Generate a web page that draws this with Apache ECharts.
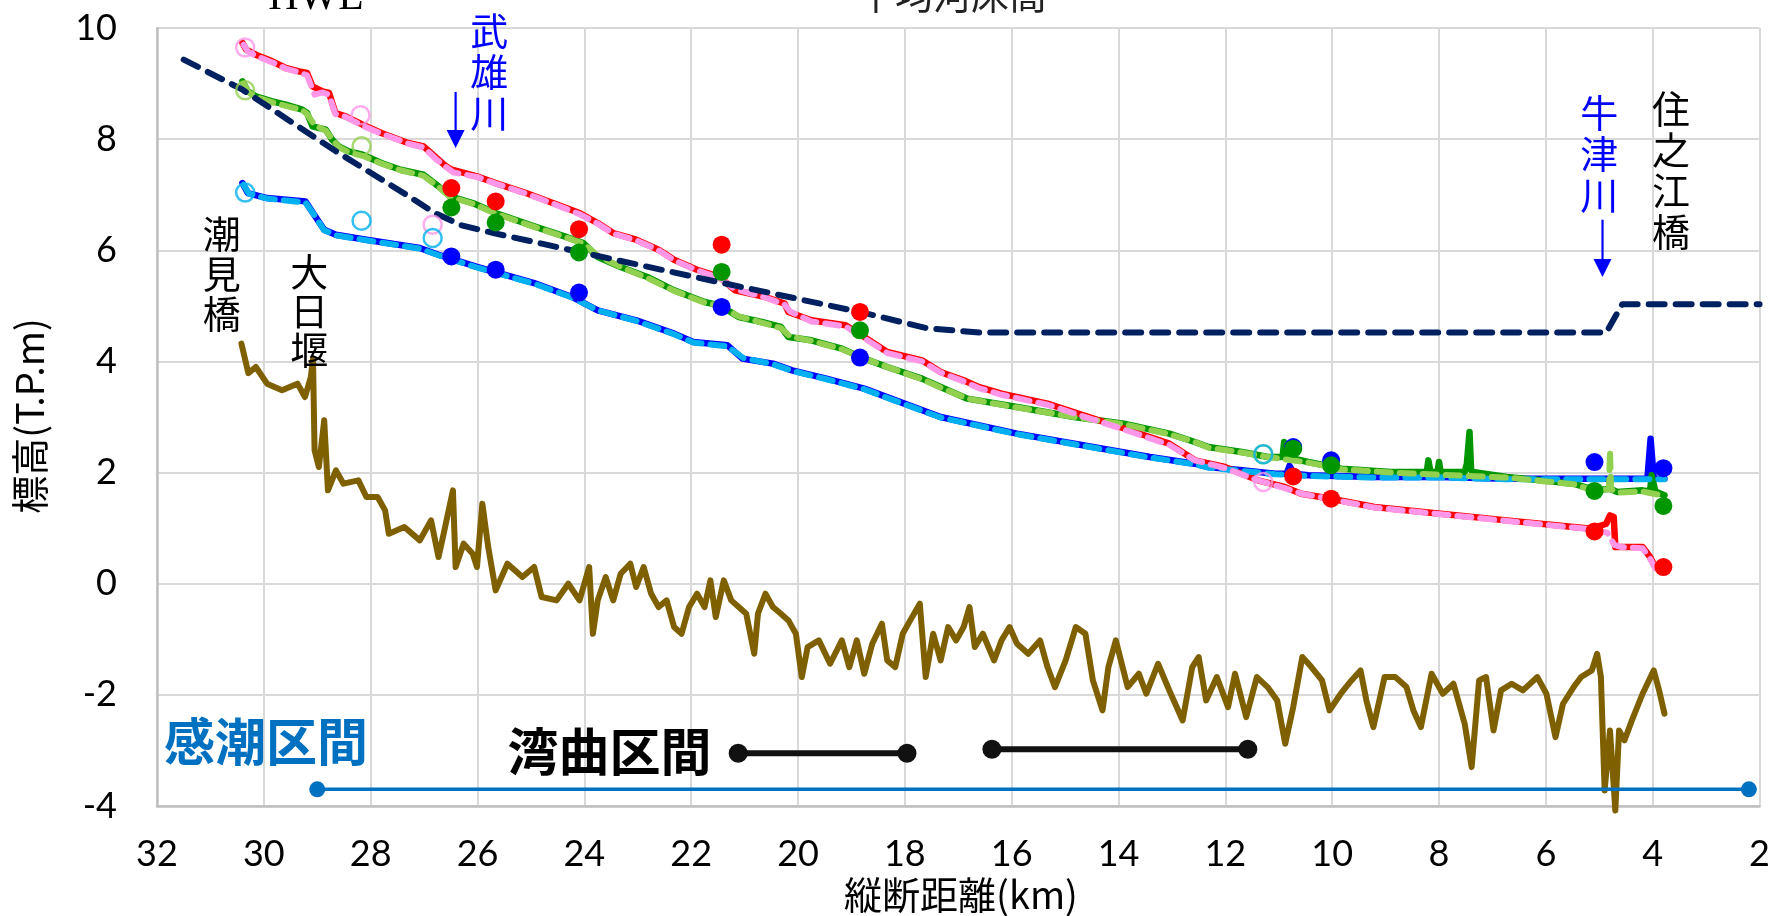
<!DOCTYPE html>
<html><head><meta charset="utf-8">
<script src="https://cdn.jsdelivr.net/npm/echarts@6/dist/echarts.min.js"></script>
<style>html,body{margin:0;padding:0;background:#fff}#c{width:1773px;height:916px}</style>
</head><body><div id="c"></div>
<script>
// ---------- data (km, T.P.m) ----------
const xTicks = [32,30,28,26,24,22,20,18,16,14,12,10,8,6,4,2];
const yTicks = [-4,-2,0,2,4,6,8,10];

const hwlX = [31.5,30.4,28.65,27.3,26.8,26.3,25.7,24.0,21.5,18.75,17.6,16.6,4.87,4.57,2.0];
const hwlY = [9.43,8.89,7.78,6.98,6.67,6.45,6.31,5.95,5.43,4.87,4.6,4.52,4.52,5.03,5.03];

const redX = [30.4,30.33,30.15,29.84,29.59,29.34,29.19,29.09,28.9,28.78,28.66,28.47,28.15,27.8,27.3,27.01,26.8,26.59,26.48,26.01,25.66,25.09,24.59,24.09,23.75,23.46,23.03,22.61,22.32,21.89,21.47,21.18,20.61,20.25,20.18,19.75,19.11,18.76,18.33,17.68,17.33,16.9,16.62,16.19,15.33,13.98,13.05,12.57,12.01,11.39,10.89,10.58,10.02,9.21,7.97,6.73,5.48,5.14,4.87,4.8,4.73,4.7,4.59,4.19,4.05,3.95,3.81];
const redY = [9.73,9.61,9.52,9.40,9.28,9.22,9.19,8.95,8.86,8.83,8.47,8.41,8.26,8.11,7.93,7.87,7.69,7.51,7.45,7.33,7.21,7.03,6.85,6.67,6.49,6.31,6.19,6.01,5.83,5.65,5.52,5.28,5.16,5.04,4.89,4.74,4.65,4.44,4.17,4.02,3.81,3.66,3.54,3.42,3.24,2.82,2.52,2.22,2.10,1.86,1.74,1.62,1.53,1.38,1.26,1.14,1.02,0.99,1.08,1.23,1.20,0.66,0.66,0.66,0.48,0.30,0.24];

const pinkX = [30.38,30.3,30.15,29.84,29.59,29.34,29.19,29.05,28.9,28.78,28.66,28.47,28.15,27.8,27.3,27.01,26.8,26.59,26.45,26.01,25.66,25.09,24.59,24.09,23.75,23.46,23.03,22.61,22.32,21.89,21.47,21.18,20.61,20.25,20.15,19.75,19.11,18.76,18.33,17.68,17.33,16.9,16.62,16.19,15.33,13.98,13.05,12.57,12.01,11.39,10.89,10.58,10.02,9.21,7.97,6.73,5.48,5.14,4.85,4.72,4.59,4.19,4.05,3.95,3.83];
const pinkY = [9.70,9.58,9.50,9.38,9.27,9.20,9.15,8.80,8.84,8.80,8.45,8.40,8.24,8.10,7.92,7.85,7.66,7.50,7.40,7.32,7.20,7.02,6.84,6.65,6.48,6.30,6.18,6.00,5.82,5.64,5.50,5.30,5.15,5.02,4.90,4.72,4.63,4.42,4.15,4.00,3.80,3.64,3.52,3.40,3.22,2.80,2.50,2.22,2.08,1.86,1.72,1.62,1.52,1.37,1.25,1.13,1.01,0.98,0.92,0.70,0.66,0.64,0.45,0.28,0.21];

const greenX = [30.4,30.3,30.15,29.84,29.59,29.28,29.19,29.09,28.84,28.72,28.6,28.41,28.15,27.8,27.44,27.01,26.73,26.51,26.09,25.66,24.94,24.37,24.02,23.75,23.32,22.82,22.32,21.75,21.47,21.11,20.68,20.32,20.18,19.75,19.18,18.76,18.33,17.68,17.33,16.83,15.9,14.83,13.9,13.05,12.57,12.32,11.69,11.2,10.93,10.9,10.86,10.45,9.83,8.9,8.23,8.2,8.16,8.03,8.0,7.97,7.52,7.48,7.43,7.4,7.37,6.73,6.1,5.48,5.07,4.8,4.66,4.19,4.05,4.02,3.95,3.78];
const greenY = [9.04,8.86,8.77,8.68,8.62,8.53,8.47,8.23,8.17,7.99,7.87,7.78,7.72,7.57,7.45,7.36,7.15,6.97,6.85,6.67,6.43,6.25,6.13,5.88,5.70,5.52,5.28,5.07,5.01,4.80,4.71,4.62,4.44,4.38,4.23,4.05,3.90,3.69,3.54,3.33,3.18,3.00,2.88,2.70,2.55,2.46,2.37,2.28,2.28,2.55,2.28,2.19,2.07,2.01,2.01,2.22,2.01,2.01,2.19,2.01,2.01,2.15,2.73,2.05,2.01,1.92,1.86,1.80,1.68,1.71,1.65,1.68,1.66,1.95,1.66,1.59];

const lgreenX = [30.38,30.28,30.15,29.84,29.59,29.28,29.19,29.05,28.84,28.72,28.6,28.41,28.15,27.8,27.44,27.01,26.73,26.51,26.09,25.66,24.94,24.37,24.02,23.75,23.32,22.82,22.32,21.75,21.47,21.11,20.68,20.32,20.15,19.75,19.18,18.76,18.33,17.68,17.33,16.83,15.9,14.83,13.9,13.05,12.57,12.32,11.69,11.2,10.45,9.83,8.9,7.97,6.73,6.1,5.48,5.07,4.82,4.8,4.78,4.66,4.19,3.78];
const lgreenY = [9.00,8.84,8.76,8.66,8.60,8.52,8.45,8.25,8.15,8.00,7.86,7.76,7.70,7.56,7.44,7.34,7.14,6.96,6.84,6.66,6.42,6.24,6.12,5.90,5.70,5.50,5.27,5.06,5.00,4.81,4.70,4.60,4.45,4.37,4.22,4.05,3.90,3.68,3.53,3.33,3.17,3.00,2.87,2.69,2.55,2.45,2.36,2.28,2.18,2.06,2.00,1.96,1.91,1.85,1.79,1.67,1.70,2.40,1.70,1.64,1.66,1.58];

const blueX = [30.4,30.3,29.94,29.22,29.08,28.87,28.65,28.08,27.08,26.73,26.01,24.94,24.23,23.75,23.03,22.32,21.96,21.32,21.04,20.47,20.11,19.47,18.76,18.26,17.33,15.9,14.48,13.41,12.57,12.32,11.69,11.07,10.85,10.8,10.72,10.45,9.21,7.97,6.73,5.48,4.1,4.04,4.02,3.98,3.78];
const blueY = [7.21,7.03,6.94,6.88,6.67,6.37,6.28,6.19,6.04,5.92,5.70,5.41,5.16,4.92,4.74,4.50,4.35,4.29,4.05,3.96,3.84,3.69,3.51,3.33,3.00,2.70,2.46,2.28,2.16,2.10,2.04,1.98,1.98,2.12,1.98,1.95,1.92,1.92,1.89,1.89,1.89,2.61,2.61,1.89,1.89];

const lblueX = [30.38,30.28,29.94,29.22,29.06,28.87,28.65,28.08,27.08,26.73,26.01,24.94,24.23,23.75,23.03,22.32,21.96,21.32,21.02,20.47,20.11,19.47,18.76,18.26,17.33,15.9,14.48,13.41,12.57,12.32,11.69,11.07,10.45,9.21,7.97,6.73,5.48,4.1,3.78];
const lblueY = [7.18,7.02,6.93,6.86,6.64,6.36,6.27,6.18,6.03,5.91,5.69,5.40,5.15,4.92,4.73,4.49,4.34,4.27,4.06,3.95,3.83,3.68,3.50,3.32,2.99,2.69,2.45,2.27,2.15,2.09,2.03,1.97,1.94,1.91,1.91,1.88,1.88,1.88,1.88];

const bedX = [30.42,30.29,30.15,29.94,29.66,29.37,29.23,29.12,29.08,29.05,28.97,28.87,28.8,28.65,28.51,28.23,28.08,27.87,27.73,27.66,27.37,27.08,26.87,26.73,26.62,26.46,26.41,26.26,26.09,26.01,25.91,25.8,25.66,25.44,25.16,24.94,24.8,24.52,24.3,24.09,23.91,23.84,23.75,23.6,23.46,23.32,23.14,23.03,22.89,22.75,22.61,22.46,22.32,22.18,22.04,21.89,21.75,21.64,21.54,21.39,21.25,21.11,20.97,20.82,20.75,20.61,20.47,20.32,20.18,20.04,19.93,19.82,19.61,19.4,19.18,19.04,18.9,18.76,18.61,18.43,18.33,18.18,18.04,17.9,17.72,17.61,17.47,17.33,17.19,17.04,16.9,16.79,16.69,16.54,16.33,16.19,16.04,15.9,15.69,15.47,15.33,15.19,14.99,14.8,14.62,14.48,14.3,14.19,14.05,13.83,13.62,13.48,13.26,13.05,12.8,12.62,12.5,12.36,12.16,11.95,11.82,11.61,11.41,11.21,11.03,10.88,10.73,10.56,10.39,10.19,10.05,9.84,9.64,9.47,9.36,9.23,9.02,8.82,8.61,8.48,8.34,8.14,7.93,7.73,7.52,7.39,7.25,7.12,6.98,6.84,6.64,6.43,6.16,5.99,5.82,5.68,5.48,5.34,5.14,5.04,4.97,4.9,4.8,4.7,4.63,4.53,4.39,4.19,3.98,3.88,3.78];
const bedY = [4.32,3.79,3.90,3.60,3.48,3.60,3.36,3.72,4.05,2.40,2.10,2.94,1.68,2.04,1.80,1.86,1.56,1.56,1.32,0.90,1.02,0.78,1.14,0.48,0.96,1.68,0.30,0.72,0.54,0.30,1.44,0.66,-0.12,0.36,0.12,0.30,-0.24,-0.30,0.00,-0.30,0.30,-0.90,-0.30,0.12,-0.30,0.18,0.36,-0.06,0.30,-0.18,-0.42,-0.30,-0.78,-0.90,-0.42,-0.18,-0.42,0.06,-0.60,0.06,-0.30,-0.42,-0.54,-1.26,-0.54,-0.18,-0.42,-0.54,-0.66,-0.90,-1.68,-1.14,-1.02,-1.44,-1.02,-1.50,-1.02,-1.62,-1.08,-0.72,-1.38,-1.50,-0.90,-0.66,-0.36,-1.68,-0.90,-1.38,-0.78,-1.02,-0.78,-0.42,-1.14,-0.90,-1.38,-1.02,-0.78,-1.08,-1.26,-1.02,-1.50,-1.86,-1.38,-0.78,-0.90,-1.74,-2.28,-1.50,-1.02,-1.86,-1.62,-1.98,-1.44,-1.92,-2.46,-1.50,-1.32,-2.10,-1.68,-2.22,-1.62,-2.40,-1.68,-1.86,-2.10,-2.88,-2.22,-1.32,-1.50,-1.74,-2.28,-1.98,-1.74,-1.56,-2.10,-2.58,-1.68,-1.68,-1.86,-2.28,-2.58,-1.62,-1.98,-1.80,-2.52,-3.30,-1.74,-1.68,-2.64,-1.92,-1.80,-1.92,-1.68,-1.98,-2.76,-2.16,-1.86,-1.68,-1.56,-1.26,-1.68,-3.72,-2.64,-4.08,-2.64,-2.82,-2.46,-1.98,-1.56,-1.92,-2.34];

// observed points (filled) and other points (open)
const obsX      = [26.49,25.66,24.1,21.43,18.84,10.73,10.02,5.09,3.8];
const obsRedY   = [7.12,6.88,6.38,6.10,4.89,1.93,1.53,0.94,0.30];
const obsGreenY = [6.77,6.50,5.96,5.61,4.56,2.43,2.13,1.67,1.40];
const obsBlueY  = [5.89,5.65,5.24,4.98,4.07,2.46,2.22,2.19,2.08];
const openPinkX = [30.35,28.19,26.84,11.29];
const openPinkY = [9.65,8.43,6.46,1.83];
const openLGreenX = [30.35,28.17,11.29];
const openLGreenY = [8.88,7.87,2.33];
const openLBlueX = [30.35,28.17,26.84,11.29];
const openLBlueY = [7.04,6.53,6.22,2.33];

// reach bars
const kanchoX = [29.0,2.2];
const kanchoY = [-3.7,-3.7];
const wan1X = [21.12,17.96];
const wan1Y = [-3.05,-3.05];
const wan2X = [16.37,11.58];
const wan2Y = [-2.98,-2.98];

const pairs = (xs, ys) => xs.map((x, i) => [x, ys[i]]);

const chart = echarts.init(document.getElementById('c'), null, {renderer: 'canvas'});
const numFont = 'Lato, "Open Sans", sans-serif';
const jpFont = '"Noto Sans CJK JP", "Noto Sans", sans-serif';

function lineS(name, xs, ys, color, width, dash, z) {
  return {
    name, type: 'line', data: pairs(xs, ys), showSymbol: false, symbol: 'none',
    lineStyle: {color, width, type: dash || 'solid', cap: 'round', join: 'round'},
    z: z || 2, animation: false, clip: true
  };
}
function dotS(xs, ys, color, size) {
  return {type: 'scatter', data: pairs(xs, ys), symbol: 'circle', symbolSize: size,
    itemStyle: {color, opacity: 1}, z: 6, animation: false};
}
function ringS(xs, ys, color) {
  return {type: 'scatter', data: pairs(xs, ys), symbol: 'circle', symbolSize: 18,
    itemStyle: {color: 'rgba(0,0,0,0)', borderColor: color, borderWidth: 2.5}, z: 6, animation: false};
}
function barS(xs, ys, color, width, size) {
  return {type: 'line', data: pairs(xs, ys), symbol: 'circle', symbolSize: size, showSymbol: true,
    lineStyle: {color, width}, itemStyle: {color}, z: 5, animation: false};
}

const bed = lineS('平均河床高', bedX, bedY, '#7F6000', 6, null, 2);
bed.clip = false;

chart.setOption({
  animation: false,
  backgroundColor: '#fff',
  grid: {left: 157, right: 6, top: 28, bottom: 110, containLabel: false},
  xAxis: {
    type: 'value', inverse: true, min: 2, max: 32, interval: 2,
    axisLine: {show: true, onZero: false, lineStyle: {color: '#BFBFBF', width: 2.5}},
    axisTick: {show: false},
    splitLine: {show: true, lineStyle: {color: '#D9D9D9', width: 2}},
    axisLabel: {color: '#000', fontSize: 36, fontFamily: numFont, margin: 30,
      formatter: v => xTicks.includes(v) ? String(v) : ''}
  },
  yAxis: {
    type: 'value', min: -4, max: 10, interval: 2,
    axisLine: {show: true, onZero: false, lineStyle: {color: '#BFBFBF', width: 2.5}},
    axisTick: {show: false},
    splitLine: {show: true, lineStyle: {color: '#D9D9D9', width: 2}},
    axisLabel: {color: '#000', fontSize: 36, fontFamily: numFont, margin: 40,
      formatter: v => yTicks.includes(v) ? String(v) : ''}
  },
  series: [
    bed,
    lineS('blue', blueX, blueY, '#0000FF', 6.5),
    lineS('lblue', lblueX, lblueY, '#00B0F0', 6, [14, 9], 3),
    lineS('green', greenX, greenY, '#009600', 6.5),
    lineS('lgreen', lgreenX, lgreenY, '#92D050', 6, [14, 9], 3),
    lineS('red', redX, redY, '#FF0000', 6.5),
    lineS('pink', pinkX, pinkY, '#FF96E8', 6, [14, 9], 3),
    lineS('HWL', hwlX, hwlY, '#002060', 6, [16, 11], 4),
    dotS(obsX, obsBlueY, '#0000FF', 18),
    dotS(obsX, obsGreenY, '#009600', 18),
    dotS(obsX, obsRedY, '#FF0000', 18),
    ringS(openPinkX, openPinkY, '#FF96E8'),
    ringS(openLGreenX, openLGreenY, '#92D050'),
    ringS(openLBlueX, openLBlueY, '#00B0F0'),
    barS(kanchoX, kanchoY, '#0070C0', 3.5, 16),
    barS(wan1X, wan1Y, '#111111', 6, 19),
    barS(wan2X, wan2Y, '#111111', 6, 19)
  ]
});

// ---------- annotations (anchored in data units) ----------
const P = (x, y) => chart.convertToPixel({gridIndex: 0}, [x, y]);
const vtexts = [
  {t: '武\n雄\n川', x: 25.78, y: 9.21, c: '#0000FF', fs: 38, lh: 41},
  {t: '牛\n津\n川', x: 5.0, y: 7.74, c: '#0000FF', fs: 38, lh: 41},
  {t: '住\n之\n江\n橋', x: 3.66, y: 7.45, c: '#000', fs: 38, lh: 41},
  {t: '潮\n見\n橋', x: 30.79, y: 5.59, c: '#000', fs: 38, lh: 40},
  {t: '大\n日\n堰', x: 29.15, y: 4.91, c: '#000', fs: 38, lh: 39},
  {t: '感潮区間', x: 29.96, y: -2.84, c: '#0070C0', fs: 51, lh: 51, w: 'bold'},
  {t: '湾曲区間', x: 23.53, y: -3.02, c: '#000', fs: 51, lh: 51, w: 'bold'}
];
const arrows = [
  {x: 26.41, y0: 8.85, y1: 7.84, c: '#0000FF'},
  {x: 4.94, y0: 6.55, y1: 5.52, c: '#0000FF'}
];
const g = [];
vtexts.forEach(a => {
  const p = P(a.x, a.y);
  g.push({type: 'text', x: p[0], y: p[1], z: 10, style: {
    text: a.t, fill: a.c, font: (a.w || 'normal') + ' ' + a.fs + 'px ' + jpFont,
    lineHeight: a.lh, align: 'center', verticalAlign: 'middle'}});
});
arrows.forEach(a => {
  const p0 = P(a.x, a.y0), p1 = P(a.x, a.y1);
  g.push({type: 'line', z: 10, shape: {x1: p0[0], y1: p0[1], x2: p1[0], y2: p1[1] - 14},
    style: {stroke: a.c, lineWidth: 2.2}});
  g.push({type: 'polygon', z: 10, shape: {points: [[p1[0] - 9, p1[1] - 18], [p1[0] + 9, p1[1] - 18], [p1[0], p1[1]]]},
    style: {fill: a.c}});
});
// header texts cut by the top edge, and axis names
g.push({type: 'text', x: 316, y: 19, z: 10, style: {text: 'HWL', fill: '#000',
  font: 'normal 42px "Liberation Serif", "DejaVu Serif", serif', align: 'center', verticalAlign: 'bottom'}});
g.push({type: 'text', x: 952, y: 14, z: 10, style: {text: '平均河床高', fill: '#222',
  font: 'normal 38px ' + jpFont, align: 'center', verticalAlign: 'bottom'}});
g.push({type: 'text', x: 961, y: 895, z: 10, style: {text: '縦断距離(km)', fill: '#000',
  font: 'normal 38px ' + jpFont, align: 'center', verticalAlign: 'middle'}});
g.push({type: 'text', x: 30, y: 416, rotation: Math.PI / 2, z: 10, style: {text: '標高(T.P.m)', fill: '#000',
  font: 'normal 38px ' + jpFont, align: 'center', verticalAlign: 'middle'}});
chart.setOption({graphic: g});
</script></body></html>
